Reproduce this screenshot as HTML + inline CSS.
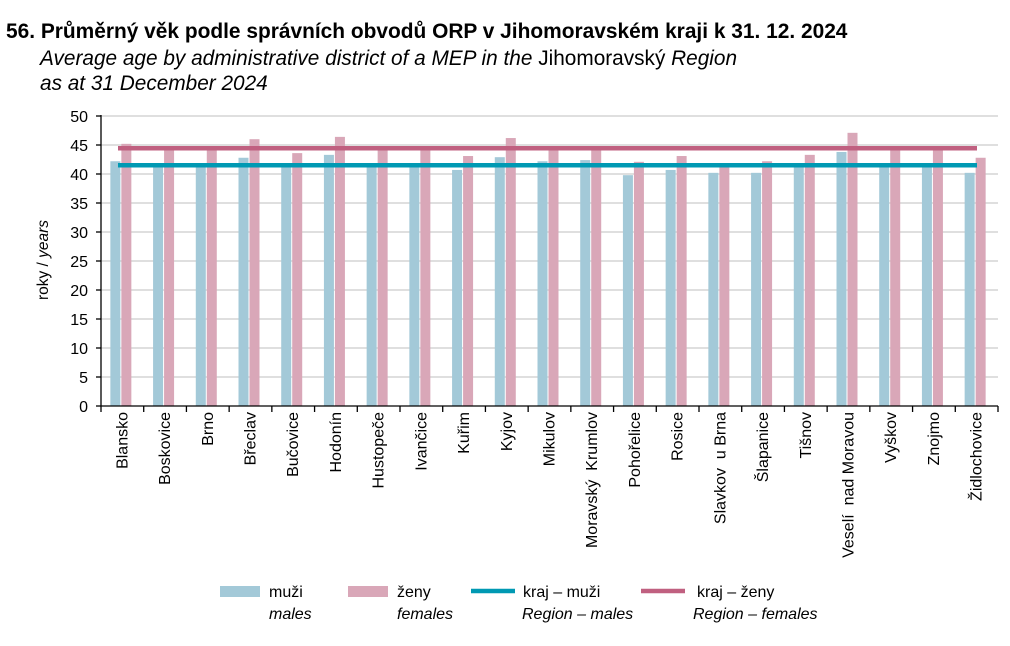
<!DOCTYPE html>
<html><head><meta charset="utf-8"><style>
body{margin:0;background:#fff;}
svg{display:block;font-family:"Liberation Sans",Arial,sans-serif;}
</style></head><body>
<svg width="1010" height="646" xmlns="http://www.w3.org/2000/svg">
<text x="6" y="38" font-size="20.9" font-weight="bold" fill="#000">56. Průměrný věk podle správních obvodů ORP v Jihomoravském kraji k 31. 12. 2024</text>
<text x="40" y="65" font-size="20.8" font-style="italic">Average age by administrative district of a MEP in the <tspan font-style="normal">Jihomoravský</tspan> Region</text>
<text x="40" y="90" font-size="20.8" font-style="italic">as at 31 December 2024</text>
<g id="grid" stroke="#bfbfbf" stroke-width="1"></g>
<g id="bars"></g>
<line x1="118" y1="148.3" x2="977" y2="148.3" stroke="#c06080" stroke-width="4.5"/>
<line x1="118" y1="165.3" x2="977" y2="165.3" stroke="#0099b3" stroke-width="4.5"/>
<g id="axes" stroke="#000" stroke-width="1.3"></g>
<g id="labels" font-size="16"></g>
<text transform="translate(48,260) rotate(-90)" text-anchor="middle" font-size="15.5">roky / <tspan font-style="italic">years</tspan></text>
<rect x="220" y="586" width="40" height="11" fill="#a3c9d8"/>
<text x="269" y="597" font-size="16">muži</text>
<text x="269" y="619" font-size="16" font-style="italic">males</text>
<rect x="348" y="586" width="40" height="11" fill="#d9a7b8"/>
<text x="397" y="597" font-size="16">ženy</text>
<text x="397" y="619" font-size="16" font-style="italic">females</text>
<line x1="471" y1="591" x2="515" y2="591" stroke="#0099b3" stroke-width="4.5"/>
<text x="523" y="597" font-size="16">kraj – muži</text>
<text x="522" y="619" font-size="16" font-style="italic">Region – males</text>
<line x1="641" y1="591" x2="685" y2="591" stroke="#c06080" stroke-width="4.5"/>
<text x="697" y="597" font-size="16">kraj – ženy</text>
<text x="693" y="619" font-size="16" font-style="italic">Region – females</text>
</svg>
<script>
const ns="http://www.w3.org/2000/svg";
function el(p,t,a,txt){const e=document.createElementNS(ns,t);for(const k in a)e.setAttribute(k,a[k]);if(txt!=null)e.textContent=txt;document.getElementById(p).appendChild(e);return e;}
const x0=101,x1=998,y0=406,s=5.8,w=(x1-x0)/21;
for(let v=5;v<=50;v+=5){const y=y0-v*s;el("grid","line",{x1:x0,x2:x1,y1:y,y2:y});}
const d=[["Blansko",42.2,45.2],["Boskovice",41.3,44.1],["Brno",41.2,44.2],["Břeclav",42.8,46.0],["Bučovice",41.3,43.6],["Hodonín",43.3,46.4],["Hustopeče",41.4,44.2],["Ivančice",41.3,44.2],["Kuřim",40.7,43.1],["Kyjov",42.9,46.2],["Mikulov",42.2,44.2],["Moravský  Krumlov",42.4,44.2],["Pohořelice",39.8,42.1],["Rosice",40.7,43.1],["Slavkov  u Brna",40.2,41.3],["Šlapanice",40.2,42.2],["Tišnov",41.3,43.3],["Veselí  nad Moravou",43.8,47.1],["Vyškov",41.3,44.2],["Znojmo",41.3,44.3],["Židlochovice",40.2,42.8]];
d.forEach((r,i)=>{const c=x0+(i+0.5)*w;
el("bars","rect",{x:c-12,y:y0-r[1]*s,width:10,height:r[1]*s,fill:"#a3c9d8"});
el("bars","rect",{x:c-1,y:y0-r[2]*s,width:10,height:r[2]*s,fill:"#d9a7b8"});
el("labels","text",{transform:`translate(${c+5},412) rotate(-90)`,"text-anchor":"end",style:"white-space:pre"},r[0]);
el("axes","line",{x1:x0+i*w,x2:x0+i*w,y1:y0,y2:y0+6});});
el("axes","line",{x1:x1,x2:x1,y1:y0,y2:y0+6});
el("axes","line",{x1:x0,x2:x0,y1:115,y2:y0});
el("axes","line",{x1:x0,x2:x1,y1:y0,y2:y0});
for(let v=0;v<=50;v+=5){const y=y0-v*s;el("axes","line",{x1:x0-5,x2:x0,y1:y,y2:y});
el("labels","text",{x:x0-13,y:y+6,"text-anchor":"end","font-size":"16"},String(v));}
</script>
</body></html>
